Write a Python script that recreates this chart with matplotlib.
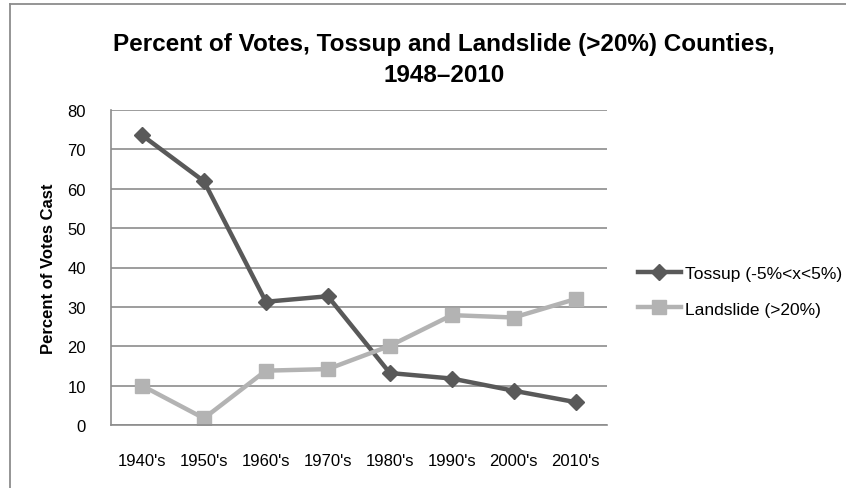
import matplotlib
matplotlib.use("Agg")
import matplotlib.pyplot as plt
from matplotlib.lines import Line2D

categories = ["1940's", "1950's", "1960's", "1970's", "1980's", "1990's", "2000's", "2010's"]
tossup = [73.6, 61.9, 31.3, 32.7, 13.2, 11.8, 8.7, 5.8]
landslide = [10.0, 1.7, 13.8, 14.2, 20.1, 27.9, 27.3, 32.0]
series_names = ["Tossup (-5%<x<5%)", "Landslide (>20%)"]
yticks = [0, 10, 20, 30, 40, 50, 60, 70, 80]
title = "Percent of Votes, Tossup and Landslide (>20%) Counties,\n1948\u20132010"
ylabel = "Percent of Votes Cast"

plt.rcParams['font.family'] = ['Liberation Sans', 'DejaVu Sans']

W, H = 846, 489
fig = plt.figure(figsize=(W / 100, H / 100), dpi=100)
ax = fig.add_axes([111 / W, 1 - 426 / H, (606.7 - 111) / W, (426 - 111) / H])

dark = '#595959'
light = '#b3b3b3'
x = list(range(len(categories)))
l1, = ax.plot(x, tossup, color=dark, lw=3.2, marker='D', ms=8, mec=dark, mfc=dark)
l2, = ax.plot(x, landslide, color=light, lw=3.2, marker='s', ms=10, mec=light, mfc=light)

ax.set_xlim(-0.5, len(categories) - 0.5)
ax.set_ylim(0, 80)
ax.set_yticks(yticks)
ax.set_xticks(x)
ax.set_xticklabels(categories)
ax.tick_params(axis='both', length=0, labelsize=12, colors='#000000')
ax.tick_params(axis='y', pad=18)
ax.tick_params(axis='x', pad=20)
ax.yaxis.grid(True, color='#8c8c8c', lw=1.2)
ax.set_axisbelow(True)
for s in ['top', 'right']:
    ax.spines[s].set_visible(False)
for s in ['left', 'bottom']:
    ax.spines[s].set_color('#8c8c8c')
    ax.spines[s].set_linewidth(1.2)

ax.set_ylabel(ylabel, fontsize=12, fontweight='bold', labelpad=8)

fig.text(444 / W, 1 - 60 / H, title, ha='center', va='center', fontsize=17.5,
         fontweight='bold', linespacing=1.4)

leg = fig.legend([l1, l2], series_names, loc='center left',
                 bbox_to_anchor=(622 / W, 1 - 292 / H), frameon=False,
                 fontsize=12.5, handlelength=2.5, handletextpad=0.25, labelspacing=1.2)

fig.add_artist(Line2D([9.5 / W, 9.5 / W], [0, 1 - 4.5 / H], transform=fig.transFigure,
                      color='#8c8c8c', lw=1.3))
fig.add_artist(Line2D([9.5 / W, 1], [1 - 4.5 / H, 1 - 4.5 / H], transform=fig.transFigure,
                      color='#8c8c8c', lw=1.3))

fig.savefig('out.png', dpi=100, facecolor='white')
